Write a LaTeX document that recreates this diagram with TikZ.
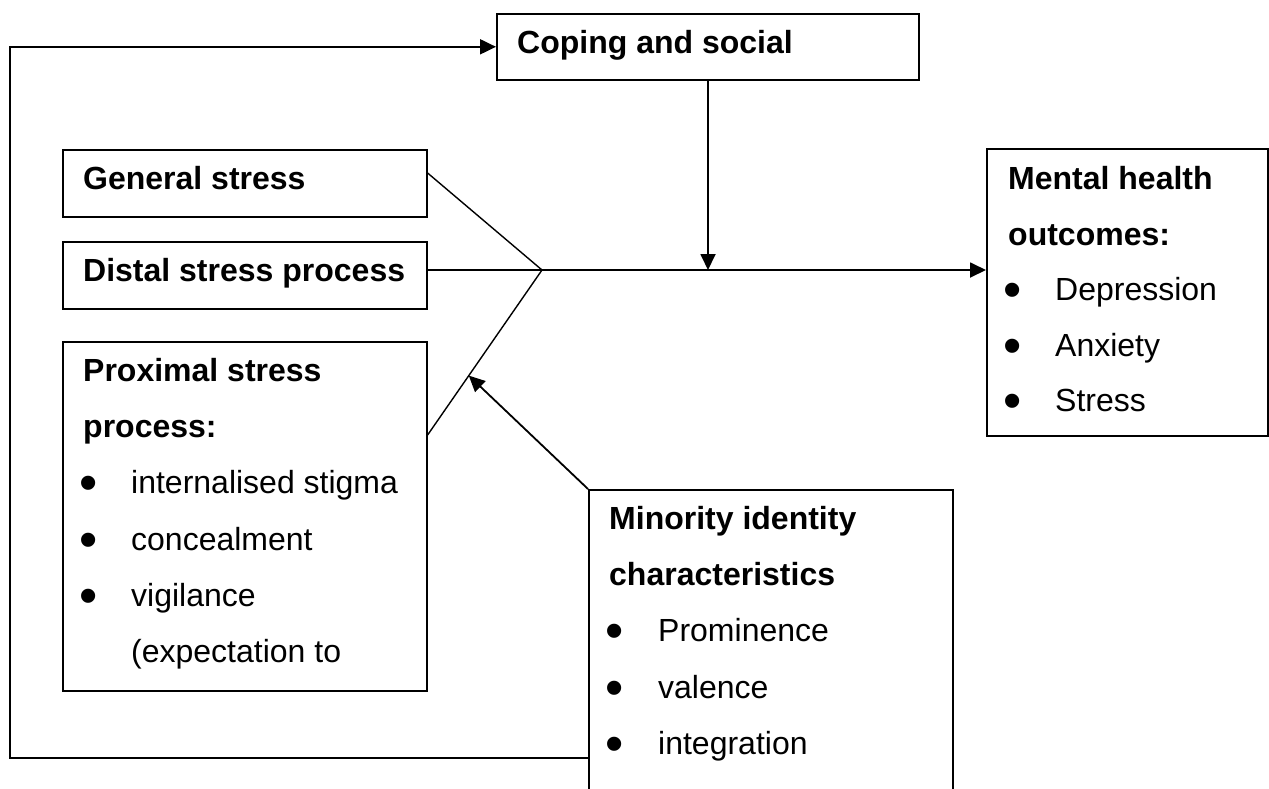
\documentclass[tikz,border=0pt]{standalone}
\usepackage{fontspec}
\setmainfont{Liberation Sans}
\usetikzlibrary{arrows.meta,calc}
\begin{document}
\begin{tikzpicture}[x=1pt,y=-1pt,
  box/.style={draw, line width=1.6pt, rectangle, anchor=north west, inner sep=0pt},
  hd/.style={anchor=base west, inner sep=0pt, font=\fontsize{32}{32}\selectfont\bfseries},
  tx/.style={anchor=base west, inner sep=0pt, font=\fontsize{32}{32}\selectfont},
  bul/.style={anchor=base, inner sep=0pt, yshift=-7.5pt, font=\fontsize{52}{52}\selectfont},
  conn/.style={line width=1.4pt},
  arr/.style={line width=1.8pt, -{Triangle[length=16pt,width=15pt]}},
  fb/.style={line width=2pt, -{Triangle[length=16pt,width=15pt]}}]
\useasboundingbox (0,0) rectangle (1269,788);
\clip (0,0) rectangle (1269,788);

% boxes
\node[box, minimum width=422pt, minimum height=66pt] (cop) at (496,13) {};
\node[box, minimum width=364pt, minimum height=67pt] (gen) at (62,149) {};
\node[box, minimum width=364pt, minimum height=67pt] (dist) at (62,241) {};
\node[box, minimum width=364pt, minimum height=349pt] (prox) at (62,341) {};
\node[box, minimum width=281pt, minimum height=287pt] (mh) at (986,148) {};
\node[box, minimum width=364pt, minimum height=340pt] (mino) at (588,489) {};

% box texts
\node[hd] (copt) at (517,53) {Coping and social};
\node[hd] (gent) at (83,189) {General stress};
\node[hd] (distt) at (83,281) {Distal stress process};

\node[hd] (prox1) at (83,381) {Proximal stress};
\node[hd] (prox2) at (83,437) {process:};
\node[bul] (pb1) at (89,493) {•};
\node[tx] (pt1) at (131,493) {internalised stigma};
\node[bul] (pb2) at (89,550) {•};
\node[tx] (pt2) at (131,550) {concealment};
\node[bul] (pb3) at (89,606) {•};
\node[tx] (pt3) at (131,606) {vigilance};
\node[tx] (pt4) at (131,662) {(expectation to};

\node[hd] (mh1) at (1008,189) {Mental health};
\node[hd] (mh2) at (1008,245) {outcomes:};
\node[bul] (mb1) at (1013,300) {•};
\node[tx] (mt1) at (1055,300) {Depression};
\node[bul] (mb2) at (1013,356) {•};
\node[tx] (mt2) at (1055,356) {Anxiety};
\node[bul] (mb3) at (1013,411) {•};
\node[tx] (mt3) at (1055,411) {Stress};

\node[hd] (mi1) at (609,529) {Minority identity};
\node[hd] (mi2) at (609,585) {characteristics};
\node[bul] (ib1) at (615,641) {•};
\node[tx] (it1) at (658,641) {Prominence};
\node[bul] (ib2) at (615,698) {•};
\node[tx] (it2) at (658,698) {valence};
\node[bul] (ib3) at (615,754) {•};
\node[tx] (it3) at (658,754) {integration};

% junction of the three stress lines
\coordinate (J) at (542,270);
\coordinate (M) at (708,270);
\coordinate (ge) at ($(gen.north east)+(0,24)$);
\coordinate (pe) at ($(prox.north east)+(0,94)$);
\coordinate (P) at ($(pe)!0.36!(J)$);

\draw[conn] (ge) -- (J);
\draw[conn] (pe) -- (J);
\draw[conn, line width=1.8pt] (dist.east |- J) -- (J);
\draw[arr] (J) -- (mh.west |- J);
\draw[arr] (cop.south -| M) -- (M);
\draw[arr] (mino.north west) -- (P);

% feedback loop to coping
\coordinate (F1) at ($(mino.north west)+(0,269)$);
\coordinate (F2) at (10,758);
\draw[fb] (F1) -- (F2) |- (cop.west);
\end{tikzpicture}
\end{document}
